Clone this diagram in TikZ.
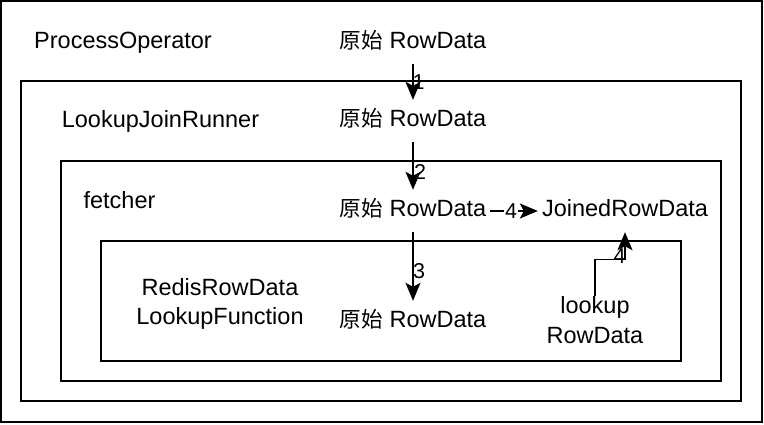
\documentclass[tikz,border=0pt]{standalone}
\usepackage{fontspec}
\setmainfont{Liberation Sans}
\newfontfamily\cjkfont[Scale=0.92]{Noto Sans CJK SC}
\usetikzlibrary{arrows.meta, positioning}
\tikzset{
  frame/.style={draw=black, line width=2pt},
  txt/.style={font=\fontsize{23.5}{29.6}\selectfont, inner sep=0pt, align=center},
  row/.style={txt, text height=19pt, text depth=8.5pt, minimum height=42pt, inner xsep=4pt},
  num/.style={font=\fontsize{21.5}{21.5}\selectfont, inner sep=0pt},
  flow/.style={-{Stealth[length=18pt,width=15pt,inset=4pt]}, line width=1.6pt}
}
\newcommand{\rawrow}{{\cjkfont 原始} RowData}

\begin{document}
\begin{tikzpicture}[x=1pt, y=-1pt]
  \useasboundingbox (0,0) rectangle (764,424);
  % nested containers
  \draw[frame] (1,1) rectangle (761.5,421.5);
  \draw[frame] (21,81) rectangle (741,401);
  \draw[frame] (61,161) rectangle (721,381);
  \draw[frame] (101,241) rectangle (681,361);

  % container names
  \node[txt] (po) at (123,43) {ProcessOperator};
  \node[txt] (ljr) at (160.5,121) {LookupJoinRunner};
  \node[txt] (fet) at (119.5,200) {fetcher};
  \node[txt] (redis) at (220,304) {RedisRowData\\LookupFunction};

  % data
  \node[row] (rdIn) at (413,43) {\rawrow};
  \node[row] (rdRunner) at (413,121) {\rawrow};
  \node[row] (rdFetch) at (413,211) {\rawrow};
  \node[row] (rdLookup) at (413,322) {\rawrow};
  \node[row] (joined) at (625,211) {JoinedRowData};
  \node[txt] (lkp) at (595,320) {lookup\\RowData};

  % flow
  \draw[flow] (rdIn) -- (rdRunner) node[num, pos=0.5, xshift=5.5pt] {1};
  \draw[flow] (rdRunner) -- (rdFetch) node[num, pos=0.62, xshift=7pt] {2};
  \draw[flow] (rdFetch) -- (rdLookup) node[num, pos=0.56, xshift=6pt] {3};
  \draw[flow] (rdFetch) -- (joined)
    node[num, midway, xshift=-3pt, fill=white, inner xsep=1pt] {4};
  \draw[flow] (lkp.north) -- ++(0,-37) -| (joined.south)
    node[num, pos=0.5, xshift=-5.5pt, yshift=3.5pt] {4};
\end{tikzpicture}
\end{document}
